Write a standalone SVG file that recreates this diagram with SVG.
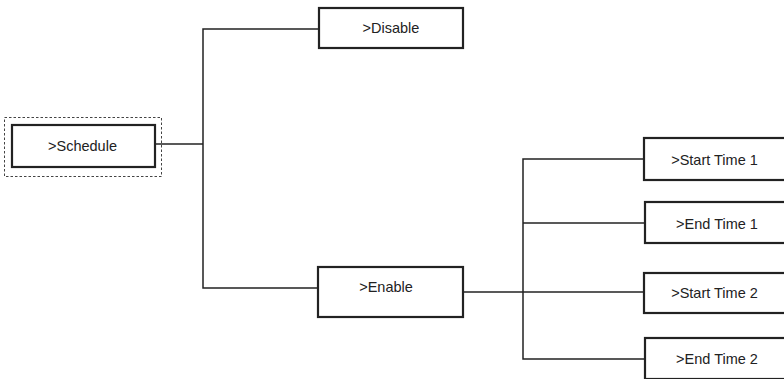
<svg xmlns="http://www.w3.org/2000/svg" width="784" height="379" viewBox="0 0 784 379">
<style>
.box{fill:#fff;stroke:#222;stroke-width:2.2}
.sel{fill:none;stroke:#444;stroke-width:1;stroke-dasharray:2.5,2}
.lbl{font-family:"Liberation Sans",Arial,sans-serif;font-size:14.5px;fill:#222;text-anchor:middle;dominant-baseline:central}
.ln{fill:none;stroke:#222;stroke-width:1.5}
</style>
<rect width="784" height="379" fill="#fff"/>
<g id="connectors">
<polyline class="ln" points="155,144 203,144"/>
<polyline class="ln" points="319,29 203,29 203,288 318,288"/>
<polyline class="ln" points="463,292 644,292"/>
<polyline class="ln" points="644,159 523,159 523,359 644,359"/>
<polyline class="ln" points="523,223 644,223"/>
</g>
<g id="schedule">
<rect class="sel" x="4.5" y="117.5" width="157" height="59"/>
<rect class="box" x="12" y="125" width="143" height="42"/>
<text class="lbl" x="82.5" y="145.5">&gt;Schedule</text>
</g>
<g id="disable">
<rect class="box" x="319" y="8" width="144" height="40"/>
<text class="lbl" x="391" y="28">&gt;Disable</text>
</g>
<g id="enable">
<rect class="box" x="318" y="267" width="145" height="50"/>
<text class="lbl" x="386" y="287">&gt;Enable</text>
</g>
<g id="start1">
<rect class="box" x="644" y="138" width="160" height="42"/>
<text class="lbl" x="714.5" y="160">&gt;Start Time 1</text>
</g>
<g id="end1">
<rect class="box" x="645" y="202" width="160" height="41"/>
<text class="lbl" x="717" y="223.5">&gt;End Time 1</text>
</g>
<g id="start2">
<rect class="box" x="644" y="273" width="160" height="40"/>
<text class="lbl" x="714.5" y="292.5">&gt;Start Time 2</text>
</g>
<g id="end2">
<rect class="box" x="645" y="338" width="160" height="41"/>
<text class="lbl" x="717" y="358.5">&gt;End Time 2</text>
</g>
</svg>
